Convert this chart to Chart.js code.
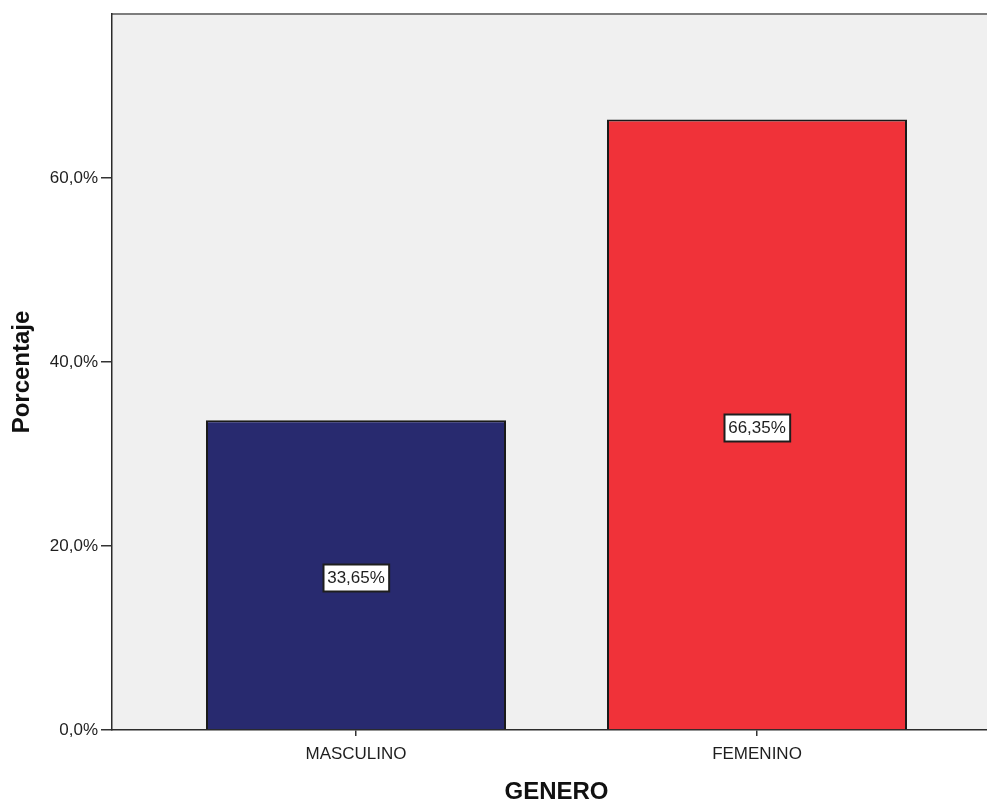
<!DOCTYPE html>
<html>
<head>
<meta charset="utf-8">
<script src="https://cdn.jsdelivr.net/npm/chart.js@4/dist/chart.umd.min.js"></script>
<style>
  html, body { margin: 0; padding: 0; background: #ffffff; overflow: hidden; }
  #wrap { width: 1001px; height: 803px; }
</style>
</head>
<body>
<div id="wrap"><canvas id="chart" width="1001" height="803"></canvas></div>
<script>
// Gender distribution (percent of respondents)
const categories = ['MASCULINO', 'FEMENINO'];
const percentages = [33.65, 66.35];
const barColors = ['#282A6F', '#F03239'];
const yTickValues = [0, 20, 40, 60];
const xTitle = 'GENERO';
const yTitle = 'Porcentaje';

const FONT = "'Liberation Sans', Arial, sans-serif";
const fmtPct = (v, d) => v.toFixed(d).replace('.', ',') + '%';

// Light grey plot panel with a top frame line
const panelPlugin = {
  id: 'panel',
  beforeDraw(chart) {
    const { ctx, chartArea: a } = chart;
    ctx.save();
    ctx.fillStyle = '#F0F0F0';
    ctx.fillRect(a.left, a.top, a.right - a.left, a.bottom - a.top);
    ctx.strokeStyle = '#7d7d7d';
    ctx.lineWidth = 2;
    ctx.beginPath();
    ctx.moveTo(a.left, a.top);
    ctx.lineTo(a.right, a.top);
    ctx.stroke();
    ctx.restore();
  }
};

// Boxed value labels in the middle of each bar
const valueLabelPlugin = {
  id: 'valueLabels',
  afterDatasetsDraw(chart) {
    const { ctx } = chart;
    const meta = chart.getDatasetMeta(0);
    ctx.save();
    ctx.font = '17px ' + FONT;
    ctx.textAlign = 'center';
    ctx.textBaseline = 'middle';
    meta.data.forEach((bar, i) => {
      const text = fmtPct(percentages[i], 2);
      const cx = bar.x;
      const cy = (bar.y + bar.base) / 2 + 3;
      const w = ctx.measureText(text).width + 8;
      const h = 27;
      const x0 = Math.round(cx - w / 2) + 0.5;
      const y0 = Math.round(cy - h / 2) + 0.5;
      ctx.fillStyle = '#ffffff';
      ctx.fillRect(x0, y0, w, h);
      ctx.strokeStyle = '#1e1e1e';
      ctx.lineWidth = 2;
      ctx.strokeRect(x0, y0, w, h);
      ctx.fillStyle = '#1e1e1e';
      ctx.fillText(text, cx, cy + 1);
    });
    ctx.restore();
  }
};

new Chart(document.getElementById('chart'), {
  type: 'bar',
  data: {
    datasets: [{
      data: percentages.map((v, i) => ({ x: i + 1, y: v })),
      backgroundColor: barColors,
      borderColor: '#1a1a1a',
      borderWidth: 2,
      borderSkipped: 'bottom',
      categoryPercentage: 1,
      barPercentage: 300 / 401
    }]
  },
  options: {
    responsive: false,
    animation: false,
    events: [],
    layout: { padding: { top: 14, left: 0, right: 0, bottom: 0 } },
    plugins: { legend: { display: false }, tooltip: { enabled: false } },
    scales: {
      x: {
        type: 'linear',
        offset: false,
        min: 1 - 244 / 401,
        max: 2 + 244 / 401,
        afterBuildTicks(scale) { scale.ticks = categories.map((c, i) => ({ value: i + 1 })); },
        afterFit(scale) { scale.height = 73; },
        grid: { display: true, drawOnChartArea: false, offset: false, tickLength: 6, color: '#333333', lineWidth: 1.5 },
        border: { display: true, color: '#2b2b2b', width: 1.5 },
        ticks: {
          autoSkip: false,
          maxRotation: 0,
          padding: 8,
          color: '#1e1e1e',
          font: { family: FONT, size: 17 },
          callback: (v) => categories[v - 1] || ''
        },
        title: {
          display: true,
          text: xTitle,
          color: '#111111',
          font: { family: FONT, size: 24, weight: 'bold', lineHeight: 1 },
          padding: { top: 0, bottom: -1 }
        }
      },
      y: {
        min: 0,
        max: 77.8,
        afterBuildTicks(scale) { scale.ticks = yTickValues.map(v => ({ value: v })); },
        afterFit(scale) { scale.width = 112; },
        grid: { display: true, drawOnChartArea: false, tickLength: 11, color: '#333333', lineWidth: 1.5 },
        border: { display: true, color: '#2b2b2b', width: 1.5 },
        ticks: {
          padding: 3,
          color: '#1e1e1e',
          font: { family: FONT, size: 17 },
          callback: (v) => fmtPct(v, 1)
        },
        title: {
          display: true,
          text: yTitle,
          color: '#111111',
          font: { family: FONT, size: 24, weight: 'bold', lineHeight: 1.2 },
          padding: { top: 8, bottom: 0 }
        }
      }
    }
  },
  plugins: [panelPlugin, valueLabelPlugin]
});
</script>
</body>
</html>
